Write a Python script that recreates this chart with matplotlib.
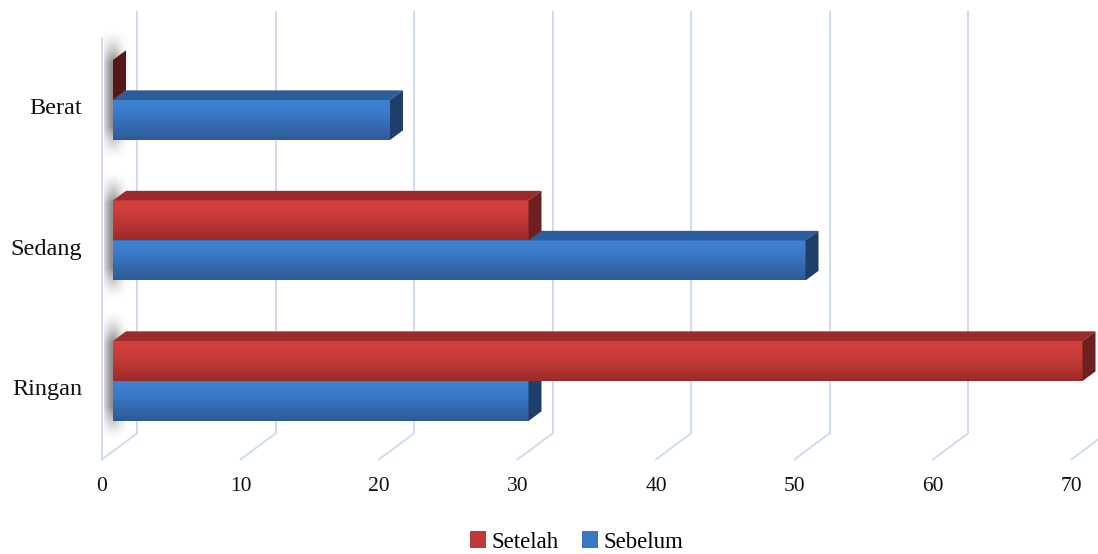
import matplotlib
matplotlib.use("Agg")
import matplotlib.pyplot as plt
import numpy as np
from matplotlib.colors import LinearSegmentedColormap
from matplotlib.patches import Polygon, Patch
from matplotlib.transforms import ScaledTranslation

# data
categories = ["Ringan", "Sedang", "Berat"]
setelah = [70, 30, 0]
sebelum = [30, 50, 20]
x_ticks = [0, 10, 20, 30, 40, 50, 60, 70]
series_names = ["Setelah", "Sebelum"]

plt.rcParams["font.family"] = ["Liberation Serif", "DejaVu Serif"]

W, H, DPI = 1098, 554, 100
fig = plt.figure(figsize=(W / DPI, H / DPI), dpi=DPI)

# axes box = front plane of the bars (pixels in the reference)
ax_left, ax_right = 113, 1082.5
ax_top, ax_bottom = 29.75, 451.25
ax = fig.add_axes([ax_left / W, 1 - ax_bottom / H,
                   (ax_right - ax_left) / W, (ax_bottom - ax_top) / H])
ax.axis("off")

px_x = (ax_right - ax_left) / 70
px_y = (ax_bottom - ax_top) / 3


def depth(d):
    """Fake 3D depth offset (d in pixels) converted to data units."""
    return d / px_x, d * 0.743 / px_y


grid_c = "#CCDCF1"
floor_y = -0.5
top_y = 2.5

# floor lines + back gridlines
fdx, fdy = depth(-11)
bdx, bdy = depth(24)
for v in x_ticks:
    ax.plot([v + fdx, v + bdx], [floor_y + fdy, floor_y + bdy],
            color=grid_c, lw=1.4, clip_on=False, zorder=1)
    ax.plot([v + bdx, v + bdx], [floor_y + bdy, top_y + bdy],
            color=grid_c, lw=1.4, clip_on=False, zorder=1)
# left wall front edge
ax.plot([fdx, fdx], [floor_y + fdy, top_y + fdy], color=grid_c, lw=1.4,
        clip_on=False, zorder=1)

bar_h = 40 / px_y

# soft shadow on the left wall
sx = np.linspace(0, 1, 80)
sy = np.linspace(0, 1, 160)
prof_x = np.exp(-((sx - 0.33) / 0.32) ** 2)
prof_y = np.clip(np.minimum(sy / 0.25, (1 - sy) / 0.25), 0, 1) ** 1.5
shadow = np.zeros((160, 80, 4))
shadow[..., :3] = 0.38
shadow[..., 3] = np.outer(prof_y, prof_x) * 0.7
for i in range(len(categories)):
    im = ax.imshow(shadow, extent=[-9 / px_x, 19 / px_x, i - 0.43, i + 0.50],
                   aspect="auto", zorder=2, interpolation="bilinear")
    im.set_clip_on(False)

red_cmap = LinearSegmentedColormap.from_list(
    "red", ["#D4423F", "#CB3C3A", "#B53433", "#9B2A29"])
blue_cmap = LinearSegmentedColormap.from_list(
    "blue", ["#3F82D2", "#3A7ACA", "#3469B0", "#2D5A97"])
grad = np.linspace(0, 1, 100).reshape(-1, 1)

styles = {
    "Setelah": (red_cmap, "#9C2B2B", "#6E1F1F", "#C0383A"),
    "Sebelum": (blue_cmap, "#2C5D9A", "#1F3E6A", "#3B76C4"),
}


def draw_bar(v, y0, y1, name, z):
    cmap, top_c, side_c, _ = styles[name]
    ddx, ddy = depth(13)
    if v > 0:
        ax.imshow(grad, extent=[0, v, y0, y1], aspect="auto", cmap=cmap,
                  zorder=z, interpolation="bilinear")
        ax.add_patch(Polygon([(0, y1), (v, y1), (v + ddx, y1 + ddy),
                              (ddx, y1 + ddy)], closed=True, clip_on=False,
                             facecolor=top_c, edgecolor="none", zorder=z))
    else:
        side_c = "#561717"
    ax.add_patch(Polygon([(v, y0), (v, y1), (v + ddx, y1 + ddy),
                          (v + ddx, y0 + ddy)], closed=True, clip_on=False,
                         facecolor=side_c, edgecolor="none", zorder=z))


for i in range(len(categories)):
    draw_bar(sebelum[i], i - bar_h, i, "Sebelum", 3 + i * 0.01)
    draw_bar(setelah[i], i, i + bar_h, "Setelah", 4 + i * 0.01)

ax.set_xlim(0, 70)
ax.set_ylim(-0.5, 2.5)

# tick labels
xoff = ax.transData + ScaledTranslation(-11 / DPI, -35.5 / DPI, fig.dpi_scale_trans)
for v in x_ticks:
    ax.text(v, floor_y, str(v), transform=xoff, ha="center", va="center",
            fontsize=15.5, color="#111111")
yoff = ax.transData + ScaledTranslation(-31 / DPI, -9 / DPI, fig.dpi_scale_trans)
for i, cat in enumerate(categories):
    ax.text(0, i, cat, transform=yoff, ha="right", va="center",
            fontsize=17.5, color="#111111")

handles = [Patch(facecolor=styles[n][3]) for n in series_names]
fig.legend(handles, series_names, loc="center",
           bbox_to_anchor=(577 / W, 1 - 542 / H), ncol=2, frameon=False,
           fontsize=16.5, handlelength=0.7, handleheight=0.7,
           handletextpad=0.25, columnspacing=1.0)

fig.savefig("out.png", dpi=DPI)
